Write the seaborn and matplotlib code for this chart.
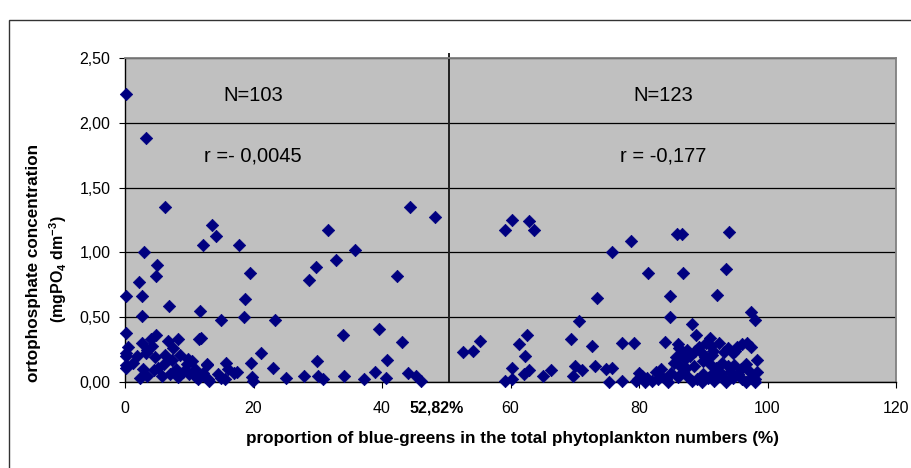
import matplotlib
matplotlib.use("Agg")
import matplotlib.pyplot as plt
import seaborn as sns
import pandas as pd
from matplotlib.patches import Rectangle

# ---------------- data ----------------
left_x = [0.2, 3.2, 6.2, 3.0, 5.0, 4.9, 2.2, 0.15, 2.6, 2.6, 6.8, 0.2,
          12.1, 13.6, 14.1, 17.7, 19.4, 18.7, 18.5, 11.6, 14.9, 23.4,
          11.8, 11.5, 21.2, 19.6, 23.0, 15.7, 25.0, 12.7, 13.0, 19.9, 19.7, 17.0, 17.5, 15.5, 15.0, 11.4,
          4.9, 4.1, 2.6, 6.7, 8.3, 0.4, 3.4, 7.5, 0.2, 1.8,
          4.7, 8.5, 7.25, 9.6, 0.2, 2.85, 5.2, 8.0, 10.9, 12.7,
          3.4, 5.7, 2.3, 8.3, 11.1, 12.2, 12.9, 0.2, 0.2, 3.2,
          4.2, 6.0, 9.0, 10.0, 7.0, 4.5, 1.2, 9.8, 10.5, 6.2,
          29.7, 28.6, 31.6, 35.8, 32.8, 42.3, 44.4, 48.3, 39.5, 43.1, 33.9, 40.8,
          29.9, 38.9, 44.0, 45.3, 46.0, 34.1, 27.8, 30.1, 30.8, 37.2, 40.6,
          16.0, 14.5]
left_y = [2.22, 1.88, 1.35, 1.00, 0.90, 0.82, 0.77, 0.66, 0.66, 0.51, 0.59, 0.38,
          1.06, 1.21, 1.13, 1.06, 0.84, 0.64, 0.50, 0.55, 0.48, 0.48,
          0.34, 0.33, 0.22, 0.15, 0.11, 0.15, 0.03, 0.14, 0.01, 0.01, 0.04, 0.07, 0.08, 0.02, 0.03, 0.02,
          0.36, 0.33, 0.30, 0.32, 0.33, 0.27, 0.25, 0.26, 0.20, 0.20,
          0.19, 0.21, 0.17, 0.14, 0.11, 0.10, 0.11, 0.10, 0.10, 0.13,
          0.05, 0.05, 0.03, 0.04, 0.04, 0.07, 0.02, 0.13, 0.22, 0.22,
          0.28, 0.14, 0.08, 0.06, 0.06, 0.09, 0.15, 0.18, 0.16, 0.21,
          0.89, 0.79, 1.17, 1.02, 0.94, 0.82, 1.35, 1.27, 0.41, 0.31, 0.36, 0.17,
          0.16, 0.08, 0.07, 0.05, 0.01, 0.05, 0.05, 0.05, 0.02, 0.02, 0.03,
          0.10, 0.06]

right_x = [52.6, 54.2, 55.2, 59.1, 60.3, 62.9, 63.7, 62.5, 61.4, 62.3, 60.3, 62.9, 62.1, 59.2, 60.3, 65.0, 66.3,
           70.7, 69.4, 73.4, 75.8, 78.7, 72.7, 77.4, 79.2, 70.1, 71.2, 69.8, 73.2, 74.8, 75.8, 75.3, 77.3, 79.5, 80.0,
           85.9, 86.7, 94.0, 81.4, 86.8, 93.5, 84.8, 92.2, 84.8, 97.4, 98.1, 88.2, 88.8, 91.1, 84.0,
           86.3, 86.8, 87.5, 88.0, 88.7, 89.3, 89.8, 90.3, 85.8, 87.2, 91.2, 91.5, 91.4, 93.2, 93.9, 94.6,
           95.3, 96.0, 96.8, 97.5, 95.0, 92.4, 90.5, 86.0,
           85.4, 86.2, 87.3, 90.0, 91.0, 92.9, 93.8, 94.8, 95.8, 96.6, 98.3, 92.0, 88.5, 83.5,
           80.4, 81.3, 82.6, 83.5, 84.2, 85.0, 84.5, 81.0, 89.0, 89.8, 90.8, 91.6, 91.6, 92.7, 93.2, 93.6,
           94.2, 94.7, 96.0, 96.6, 97.4, 98.1, 98.3, 98.0, 87.5, 88.2, 86.0, 95.4, 97.0, 82.0, 79.8, 90.0,
           86.8, 83.0, 92.0]
right_y = [0.23, 0.24, 0.32, 1.17, 1.25, 1.24, 1.17, 0.36, 0.29, 0.20, 0.11, 0.09, 0.06, 0.01, 0.02, 0.05, 0.09,
           0.47, 0.33, 0.65, 1.00, 1.09, 0.28, 0.30, 0.30, 0.12, 0.09, 0.05, 0.12, 0.10, 0.11, 0.00, 0.01, 0.01, 0.07,
           1.14, 1.14, 1.16, 0.84, 0.84, 0.87, 0.66, 0.67, 0.50, 0.54, 0.48, 0.45, 0.36, 0.34, 0.31,
           0.26, 0.22, 0.25, 0.20, 0.24, 0.27, 0.22, 0.19, 0.19, 0.18, 0.28, 0.24, 0.21, 0.23, 0.26, 0.22,
           0.27, 0.29, 0.30, 0.27, 0.24, 0.30, 0.30, 0.29,
           0.15, 0.13, 0.11, 0.16, 0.14, 0.15, 0.12, 0.13, 0.10, 0.14, 0.17, 0.11, 0.12, 0.10,
           0.05, 0.03, 0.08, 0.05, 0.02, 0.07, 0.00, 0.00, 0.02, 0.00, 0.03, 0.01, 0.08, 0.07, 0.03, 0.00,
           0.08, 0.03, 0.02, 0.00, 0.03, 0.02, 0.08, 0.00, 0.05, 0.01, 0.04, 0.06, 0.09, 0.01, 0.02, 0.06,
           0.08, 0.02, 0.04]

x_ticks = [0, 20, 40, 60, 80, 100, 120]
y_ticks = [0.0, 0.5, 1.0, 1.5, 2.0, 2.5]
y_tick_labels = ["0,00", "0,50", "1,00", "1,50", "2,00", "2,50"]
split_x = 50.5
split_label = "52,82%"
group_labels = [("N=103", "r =- 0,0045"), ("N=123", "r = -0,177")]
group_label_x = [19.9, 83.8]

# ---------------- figure ----------------
plt.rcParams["font.family"] = ["Liberation Sans", "DejaVu Sans"]
plt.rcParams["mathtext.fontset"] = "custom"
plt.rcParams["mathtext.rm"] = "Liberation Sans"
plt.rcParams["mathtext.bf"] = "Liberation Sans:bold"

df = pd.DataFrame({"x": left_x + right_x, "y": left_y + right_y})

fig = plt.figure(figsize=(9.11, 4.68), dpi=100)
fig.patch.set_facecolor("white")
fig.patches.append(Rectangle((9 / 911, -0.2), 1.2, (468 - 20) / 468 + 0.2,
                             transform=fig.transFigure, fill=False,
                             edgecolor="#333333", lw=1.0))

ax = fig.add_axes([125 / 911, 86 / 468, (896 - 125) / 911, (382 - 58) / 468])
ax.set_facecolor("#C0C0C0")

ax.set_xlim(0, 120)
ax.set_ylim(0, 2.5)
ax.set_xticks(x_ticks)
ax.set_yticks(y_ticks)
ax.set_yticklabels(y_tick_labels)
ax.yaxis.grid(True, color="black", lw=0.9)
ax.xaxis.grid(False)
ax.set_axisbelow(True)

for side in ["top", "right"]:
    ax.spines[side].set_color("#808080")
    ax.spines[side].set_linewidth(1.3)
for side in ["left", "bottom"]:
    ax.spines[side].set_color("black")
    ax.spines[side].set_linewidth(1.0)

ax.tick_params(axis="x", direction="out", length=4.5, width=0.8, pad=9,
               labelsize=11.5, colors="black")
ax.tick_params(axis="y", direction="out", length=4.5, width=0.8, pad=6,
               labelsize=11.5, colors="black")

ax.plot([split_x, split_x], [0, 2.53], color="#202020", lw=1.4, clip_on=False, zorder=2)

sns.scatterplot(data=df, x="x", y="y", marker="D", color="#000080",
                edgecolor="#000080", linewidth=0.5, s=40, ax=ax,
                legend=False, zorder=3, clip_on=False)
ax.set_xlabel("")
ax.set_ylabel("")

for (n_txt, r_txt), gx in zip(group_labels, group_label_x):
    ax.text(gx, 2.21, n_txt, ha="center", va="center", fontsize=14.5)
    ax.text(gx, 1.745, r_txt, ha="center", va="center", fontsize=14.5)

fig.text(437 / 911, 1 - 408 / 468, split_label, ha="center", va="center",
         fontsize=11.5, fontweight="bold")

fig.text(513 / 911, 1 - 438 / 468,
         "proportion of blue-greens in the total phytoplankton numbers (%)",
         ha="center", va="center", fontsize=12.3, fontweight="bold")
fig.text(34 / 911, 1 - 263 / 468, "ortophosphate concentration",
         rotation=90, ha="center", va="center", fontsize=12.3, fontweight="bold")
fig.text(58 / 911, 1 - 269 / 468, r"(mgPO$_\mathbf{4}$ dm$^\mathbf{-3}$)",
         rotation=90, ha="center", va="center", fontsize=11.5, fontweight="bold")

fig.savefig("out.png", dpi=100, facecolor="white")
